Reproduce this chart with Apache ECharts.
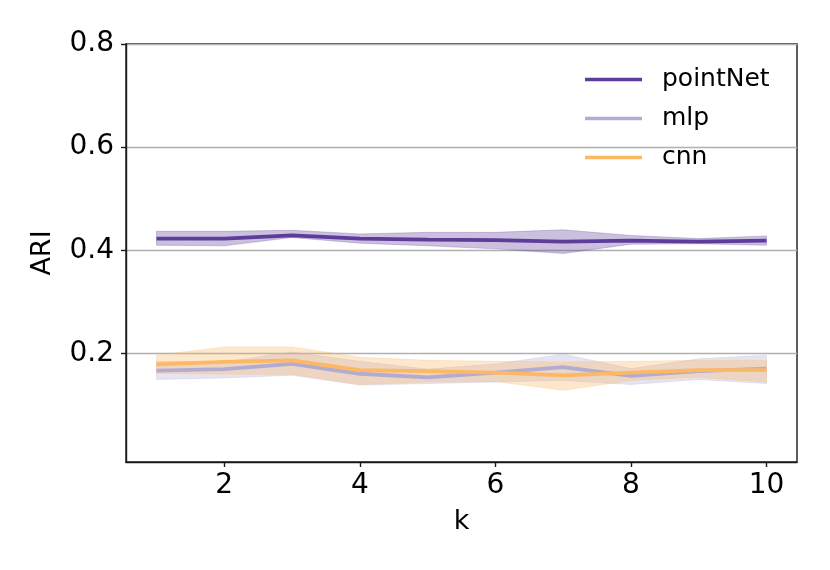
<!DOCTYPE html>
<html>
<head>
<meta charset="utf-8">
<script src="https://cdn.jsdelivr.net/npm/echarts@6/dist/echarts.min.js"></script>
<style>html,body{margin:0;padding:0;background:#fff;}#c{width:830px;height:570px;}</style>
</head>
<body>
<div id="c"></div>
<script>
const ks = [1, 2, 3, 4, 5, 6, 7, 8, 9, 10];
const xTicks = [2, 4, 6, 8, 10];
const yTicks = [0.2, 0.4, 0.6, 0.8];
const seriesNames = ['pointNet', 'mlp', 'cnn'];

const pointNetMean  = [0.423, 0.423, 0.429, 0.423, 0.421, 0.420, 0.417, 0.419, 0.417, 0.419];
const pointNetLower = [0.410, 0.409, 0.425, 0.414, 0.409, 0.403, 0.394, 0.412, 0.413, 0.410];
const pointNetUpper = [0.437, 0.437, 0.439, 0.432, 0.435, 0.435, 0.440, 0.429, 0.423, 0.428];

const mlpMean  = [0.167, 0.170, 0.180, 0.161, 0.154, 0.163, 0.174, 0.157, 0.166, 0.171];
const mlpLower = [0.150, 0.153, 0.158, 0.139, 0.142, 0.145, 0.148, 0.140, 0.150, 0.142];
const mlpUpper = [0.185, 0.184, 0.203, 0.185, 0.170, 0.180, 0.199, 0.171, 0.190, 0.197];

const cnnMean  = [0.179, 0.184, 0.187, 0.168, 0.166, 0.163, 0.158, 0.163, 0.168, 0.168];
const cnnLower = [0.162, 0.160, 0.160, 0.140, 0.145, 0.146, 0.129, 0.148, 0.154, 0.145];
const cnnUpper = [0.197, 0.213, 0.213, 0.193, 0.187, 0.185, 0.184, 0.185, 0.187, 0.187];

const colors = { pointNet: '#5e3c99', mlp: '#b2abd2', cnn: '#fdb863' };
const FONT = 'DejaVu Sans';

function pairs(arr) { return ks.map((k, i) => [k, arr[i]]); }

function group(name, mean, lower, upper) {
  const c = colors[name];
  return [
    {
      name: name, type: 'line', data: pairs(mean), showSymbol: false, symbol: 'none',
      lineStyle: { color: c, width: 3.8 }, itemStyle: { color: c }, z: 3
    },
    {
      name: name + '_band', type: 'custom', silent: true, z: 2,
      data: ks.map((k, i) => [k, lower[i], upper[i]]),
      encode: { x: 0, y: [1, 2] },
      renderItem: function (params, api) {
        if (params.dataIndex !== 0) return null;
        const pts = [];
        for (let i = 0; i < ks.length; i++) pts.push(api.coord([ks[i], upper[i]]));
        for (let i = ks.length - 1; i >= 0; i--) pts.push(api.coord([ks[i], lower[i]]));
        return {
          type: 'polygon', shape: { points: pts },
          style: { fill: c, opacity: 0.32, stroke: c, lineWidth: 0.8 }
        };
      }
    }
  ];
}

const chart = echarts.init(document.getElementById('c'), null, { renderer: 'canvas' });
chart.setOption({
  animation: false,
  backgroundColor: '#fff',
  grid: { left: 126, right: 33, top: 44, bottom: 108, show: true, borderColor: '#1a1a1a', borderWidth: 1.4, backgroundColor: 'transparent' },
  legend: {
    data: seriesNames.map(n => ({ name: n, icon: 'rect' })),
    orient: 'vertical', left: 585, top: 67, padding: 0,
    itemWidth: 57, itemHeight: 3.5, itemGap: 14,
    textStyle: { fontFamily: FONT, fontSize: 25, color: '#000', padding: [0, 0, 0, 15] }
  },
  xAxis: {
    type: 'value', min: 0.55, max: 10.45,
    name: 'k', nameLocation: 'middle', nameGap: 46,
    nameTextStyle: { fontFamily: FONT, fontSize: 27, color: '#000' },
    axisLine: { show: true, onZero: false, lineStyle: { color: '#1a1a1a', width: 1.4 } },
    axisTick: { show: true, customValues: xTicks, length: 5, lineStyle: { color: '#1a1a1a', width: 1.4 } },
    axisLabel: { customValues: xTicks, fontFamily: FONT, fontSize: 28, color: '#000', margin: 10 },
    splitLine: { show: false }
  },
  yAxis: {
    type: 'value', min: -0.01, max: 0.8,
    name: 'ARI', nameLocation: 'middle', nameGap: 70,
    nameTextStyle: { fontFamily: FONT, fontSize: 27, color: '#000' },
    axisLine: { show: true, onZero: false, lineStyle: { color: '#1a1a1a', width: 1.4 } },
    axisTick: { show: true, customValues: yTicks, length: 5, lineStyle: { color: '#1a1a1a', width: 1.4 } },
    axisLabel: { customValues: yTicks, fontFamily: FONT, fontSize: 28, color: '#000', margin: 12,
      formatter: v => v.toFixed(1) },
    splitLine: { show: true, lineStyle: { color: '#b0b0b0', width: 1.4 } }
  },
  series: [].concat(
    group('pointNet', pointNetMean, pointNetLower, pointNetUpper),
    group('mlp', mlpMean, mlpLower, mlpUpper),
    group('cnn', cnnMean, cnnLower, cnnUpper)
  )
});
</script>
</body>
</html>
